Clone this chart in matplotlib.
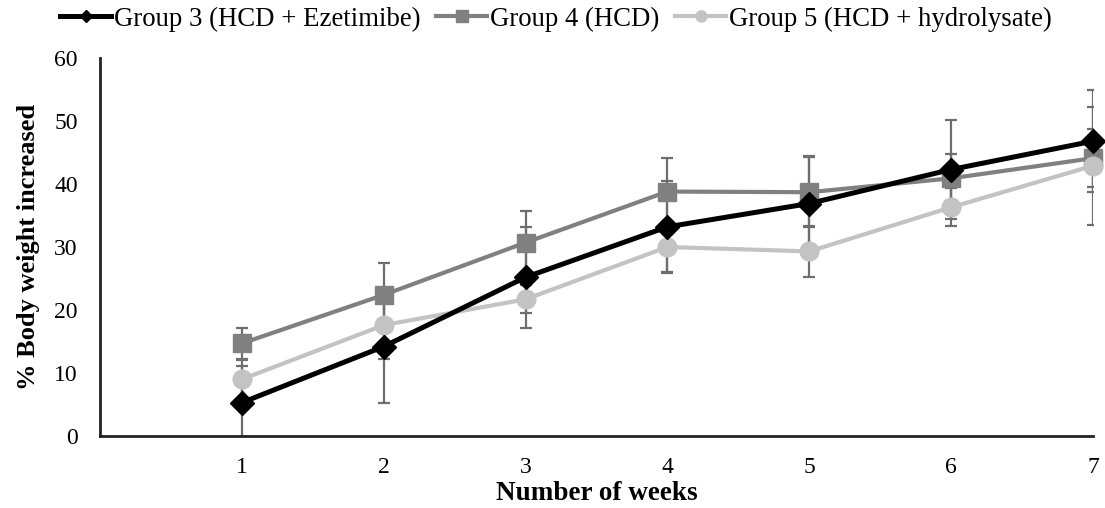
import matplotlib
matplotlib.use("Agg")
import matplotlib.pyplot as plt
from matplotlib.lines import Line2D

plt.rcParams['font.family'] = ['Liberation Serif', 'DejaVu Serif']

weeks = [1, 2, 3, 4, 5, 6, 7]
g3 = [5.3, 14.2, 25.2, 33.2, 36.9, 42.3, 46.8]
g3_err = [5.8, 8.9, 8.0, 7.3, 7.6, 7.9, 8.1]
g4 = [14.7, 22.4, 30.7, 38.8, 38.7, 40.9, 44.1]
g4_err = [2.5, 5.1, 5.0, 5.4, 5.6, 3.8, 4.6]
g5 = [9.0, 17.6, 21.7, 30.0, 29.3, 36.3, 42.9]
g5_err = [3.0, 5.3, 2.2, 4.0, 4.0, 3.0, 9.4]
labels = ["Group 3 (HCD + Ezetimibe)", "Group 4 (HCD)", "Group 5 (HCD + hydrolysate)"]
yticks = [0, 10, 20, 30, 40, 50, 60]

fig = plt.figure(figsize=(11.05, 5.08), dpi=100)
ax = fig.add_axes([100/1105, 72/508, (1093-100)/1105, 378/508])

ecol = '#6e6e6e'
series = [
    (g4, g4_err, '#808080', 's', 13.5, 3.0, 3),
    (g5, g5_err, '#c3c3c3', 'o', 13.5, 3.0, 4),
    (g3, g3_err, '#000000', 'D', 12, 3.6, 5),
]
for vals, err, col, mk, ms, lw, z in series:
    ax.errorbar(weeks, vals, yerr=err, fmt='none', ecolor=ecol, elinewidth=1.6,
                capsize=4, capthick=1.6, zorder=2)
for vals, err, col, mk, ms, lw, z in series:
    ax.plot(weeks, vals, color=col, marker=mk, markersize=ms, linewidth=lw,
            zorder=z, clip_on=False)

ax.set_xlim(0, 7)
ax.set_ylim(0, 60)
ax.set_xticks(weeks)
ax.set_yticks(yticks)
ax.tick_params(axis='both', length=0, labelsize=17)
ax.tick_params(axis='x', pad=15)
ax.tick_params(axis='y', pad=16)
for s in ['top', 'right']:
    ax.spines[s].set_visible(False)
for s in ['left', 'bottom']:
    ax.spines[s].set_linewidth(2)
    ax.spines[s].set_color('#222222')

ax.set_xlabel("Number of weeks", fontsize=19.5, fontweight='bold', labelpad=2)
ax.set_ylabel("% Body weight increased", fontsize=19, fontweight='bold', labelpad=10)

handles = [
    Line2D([], [], color='#000000', marker='D', markersize=6, linewidth=3.6),
    Line2D([], [], color='#808080', marker='s', markersize=8, linewidth=3.0),
    Line2D([], [], color='#c3c3c3', marker='o', markersize=8, linewidth=3.0),
]
fig.legend(handles, labels, loc='center', bbox_to_anchor=(556/1105, 1 - 19/508),
           ncol=3, frameon=False, fontsize=19.3, handlelength=1.9,
           handletextpad=0.1, columnspacing=0.6, borderaxespad=0, borderpad=0)

fig.savefig("out.png", dpi=100)
